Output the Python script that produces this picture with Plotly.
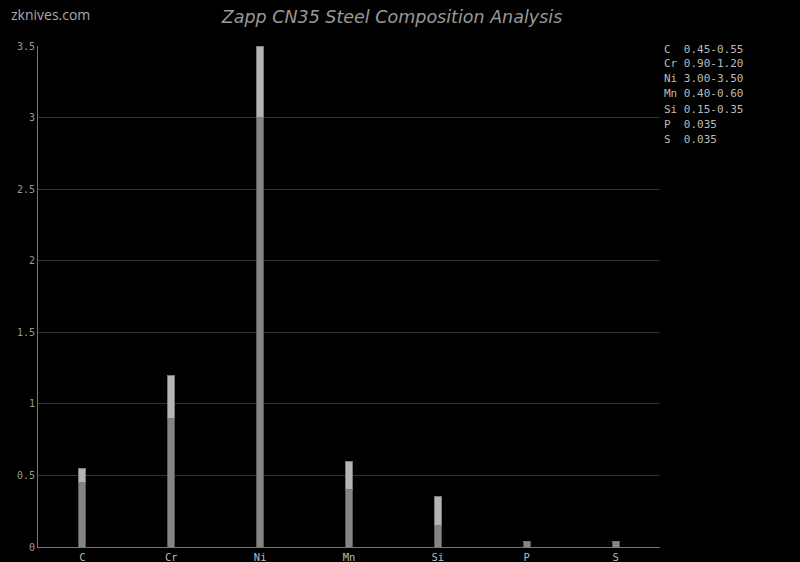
import plotly.graph_objects as go

elements = ["C", "Cr", "Ni", "Mn", "Si", "P", "S"]
min_vals = [0.45, 0.90, 3.00, 0.40, 0.15, 0.035, 0.035]
max_vals = [0.55, 1.20, 3.50, 0.60, 0.35, 0.035, 0.035]
range_labels = ["0.45-0.55", "0.90-1.20", "3.00-3.50", "0.40-0.60", "0.15-0.35", "0.035", "0.035"]
y_ticks = [0, 0.5, 1, 1.5, 2, 2.5, 3, 3.5]
y_tick_text = ["0", "0.5", "1", "1.5", "2", "2.5", "3", "3.5"]

upper = [mx - mn for mx, mn in zip(max_vals, min_vals)]

fig = go.Figure()
fig.add_trace(go.Bar(x=elements, y=min_vals, width=0.08,
                     marker=dict(color="#858585", line=dict(color="#5a5a5a", width=1))))
fig.add_trace(go.Bar(x=elements, y=upper, width=0.08,
                     marker=dict(color="#b5b5b5", line=dict(color="#7a7a7a", width=1))))

mono = "DejaVu Sans Mono"
for i, (el, rl) in enumerate(zip(elements, range_labels)):
    fig.add_annotation(text=f"{el:<2} {rl}", xref="paper", yref="paper",
                       x=1.004, y=1 - (3 + i * 15) / 501, xanchor="left", yanchor="middle",
                       showarrow=False, align="left",
                       font=dict(family=mono, size=11, color="#bbbbbb"))

fig.add_annotation(text="zknives.com", xref="paper", yref="paper", x=-0.046, y=1 + 32 / 501,
                   xanchor="left", yanchor="middle", showarrow=False,
                   font=dict(family="Open Sans", size=14, color="#aaaaaa"))

fig.update_layout(
    barmode="stack",
    width=800, height=562,
    paper_bgcolor="#000000", plot_bgcolor="#000000",
    margin=dict(l=38, r=140, t=46, b=15, autoexpand=False),
    showlegend=False,
    title=dict(text="<i>Zapp CN35 Steel Composition Analysis</i>", x=0.49, xanchor="center",
               y=0.97, yanchor="middle",
               font=dict(family="DejaVu Sans", size=17.5, color="#999999")),
    xaxis=dict(type="category", range=[-0.5, 6.5], showgrid=False, automargin=False,
               showline=True, linecolor="#777777", linewidth=1,
               ticks="", tickfont=dict(family=mono, size=10.5, color="#bbbbbb")),
    yaxis=dict(range=[0, 3.5], tickvals=y_ticks, ticktext=y_tick_text, automargin=False,
               showgrid=True, gridcolor="#333333", gridwidth=1,
               showline=True, linecolor="#777777", linewidth=1, zeroline=False,
               ticks="", ticklen=0,
               tickfont=dict(family=mono, size=10, color="#999999")),
)

fig.write_html("out.html", config={"displayModeBar": False},
               post_script="document.body.style.margin='0';document.body.style.background='#000';")
